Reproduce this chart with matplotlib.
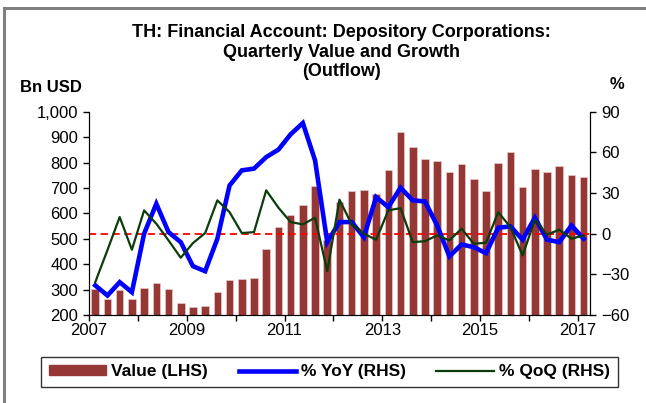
import matplotlib
matplotlib.use('Agg')
import matplotlib.pyplot as plt
from matplotlib.lines import Line2D
from matplotlib.ticker import FuncFormatter
import numpy as np

plt.rcParams['font.family'] = ['Liberation Sans', 'DejaVu Sans']

# quarterly, 2007Q1 .. 2017Q1
value = [301, 264, 298, 262, 307, 325, 302, 248, 231, 234,
         292, 338, 342, 347, 460, 548, 594, 633, 709, 495,
         646, 688, 692, 675, 771, 919, 860, 814, 804, 764,
         794, 735, 689, 800, 840, 704, 773, 763, 785, 751, 742]
yoy = [-38.1, -45.5, -35.7, -43.1, 0.0, 22.1, 1.2, -6.2, -23.9, -27.6,
       -3.7, 35.6, 46.7, 48.0, 56.5, 62.0, 73.3, 81.6, 54.1, -6.2,
       8.6, 8.6, -2.5, 27.0, 19.6, 33.9, 24.6, 23.8, 6.1, -16.7,
       -7.9, -9.9, -14.3, 4.4, 5.4, -4.4, 11.8, -4.4, -6.2, 6.1, -3.7]
qoq = [-35.7, -12.0, 12.3, -11.8, 17.2, 7.4, -4.9, -17.7, -6.9, 0.5,
       24.6, 15.9, 0.5, 1.2, 32.0, 19.2, 8.6, 6.9, 11.8, -27.6,
       25.1, 6.9, 0.0, -4.4, 17.2, 18.9, -6.2, -5.5, -1.2, -4.9,
       3.7, -7.4, -6.6, 15.9, 4.9, -16.0, 10.3, -0.7, 3.0, -3.7, -1.2]
years = list(range(2007, 2018))

x = np.arange(len(value))

fig = plt.figure(figsize=(6.46, 4.03), dpi=100)
ax = fig.add_axes([0.138, 0.218, 0.775, 0.505])
ax2 = ax.twinx()

ax.bar(x, value, width=0.62, color='#953735', edgecolor='#e8c8c8', linewidth=0.5)
ax.set_ylim(200, 1000)
ax.set_yticks(range(200, 1001, 100))
ax.yaxis.set_major_formatter(FuncFormatter(lambda v, p: f'{int(v):,}'))
ax.set_xlim(-0.5, len(value) - 0.5)

year_pos = [-0.5 + 4 * i for i in range(len(years))]
ax.set_xticks(year_pos)
ax.set_xticklabels([str(y) if y % 2 == 1 else '' for y in years])

ax2.axhline(0, color='#ff0000', ls=(0, (4, 2.5)), lw=1.3)
ax2.plot(x, yoy, color='#0000ff', lw=3.3, solid_joinstyle='miter')
ax2.plot(x, qoq, color='#0b3d0b', lw=1.6)
ax2.set_ylim(-60, 90)
ax2.set_yticks(range(-60, 91, 30))

for a in (ax, ax2):
    a.spines['top'].set_visible(False)
    a.tick_params(labelsize=12, length=4, width=1, direction='out', colors='black', pad=4)
ax.tick_params(axis='x', labelsize=12, pad=2)

fig.text(0.528, 0.94, 'TH: Financial Account: Depository Corporations:\nQuarterly Value and Growth\n(Outflow)',
         ha='center', va='top', fontsize=13, fontweight='bold', linespacing=1.2)
fig.text(0.031, 0.782, 'Bn USD', fontsize=12, fontweight='bold', va='center')
fig.text(0.955, 0.79, '%', fontsize=12, fontweight='bold', va='center', ha='center')

handles = [plt.Rectangle((0, 0), 1, 1, color='#953735'),
           Line2D([], [], color='#0000ff', lw=3.3),
           Line2D([], [], color='#0b3d0b', lw=1.6)]
leg = fig.legend(handles, ['Value (LHS)', '% YoY (RHS)', '% QoQ (RHS)'],
                 loc='center', bbox_to_anchor=(0.510, 0.077), ncol=3, frameon=True,
                 fancybox=False, edgecolor='black', prop={'weight': 'bold', 'size': 12.5},
                 handlelength=3.3, handleheight=0.5, columnspacing=1.75, handletextpad=0.3,
                 borderpad=0.45, borderaxespad=0)
leg.get_frame().set_linewidth(1.0)

fig.add_artist(Line2D([0.006, 0.006], [0.0, 0.98], color='#808080', lw=2.2, transform=fig.transFigure))
fig.add_artist(Line2D([0.006, 1.0], [0.98, 0.98], color='#808080', lw=2.2, transform=fig.transFigure))

fig.savefig('out.png', dpi=100)
